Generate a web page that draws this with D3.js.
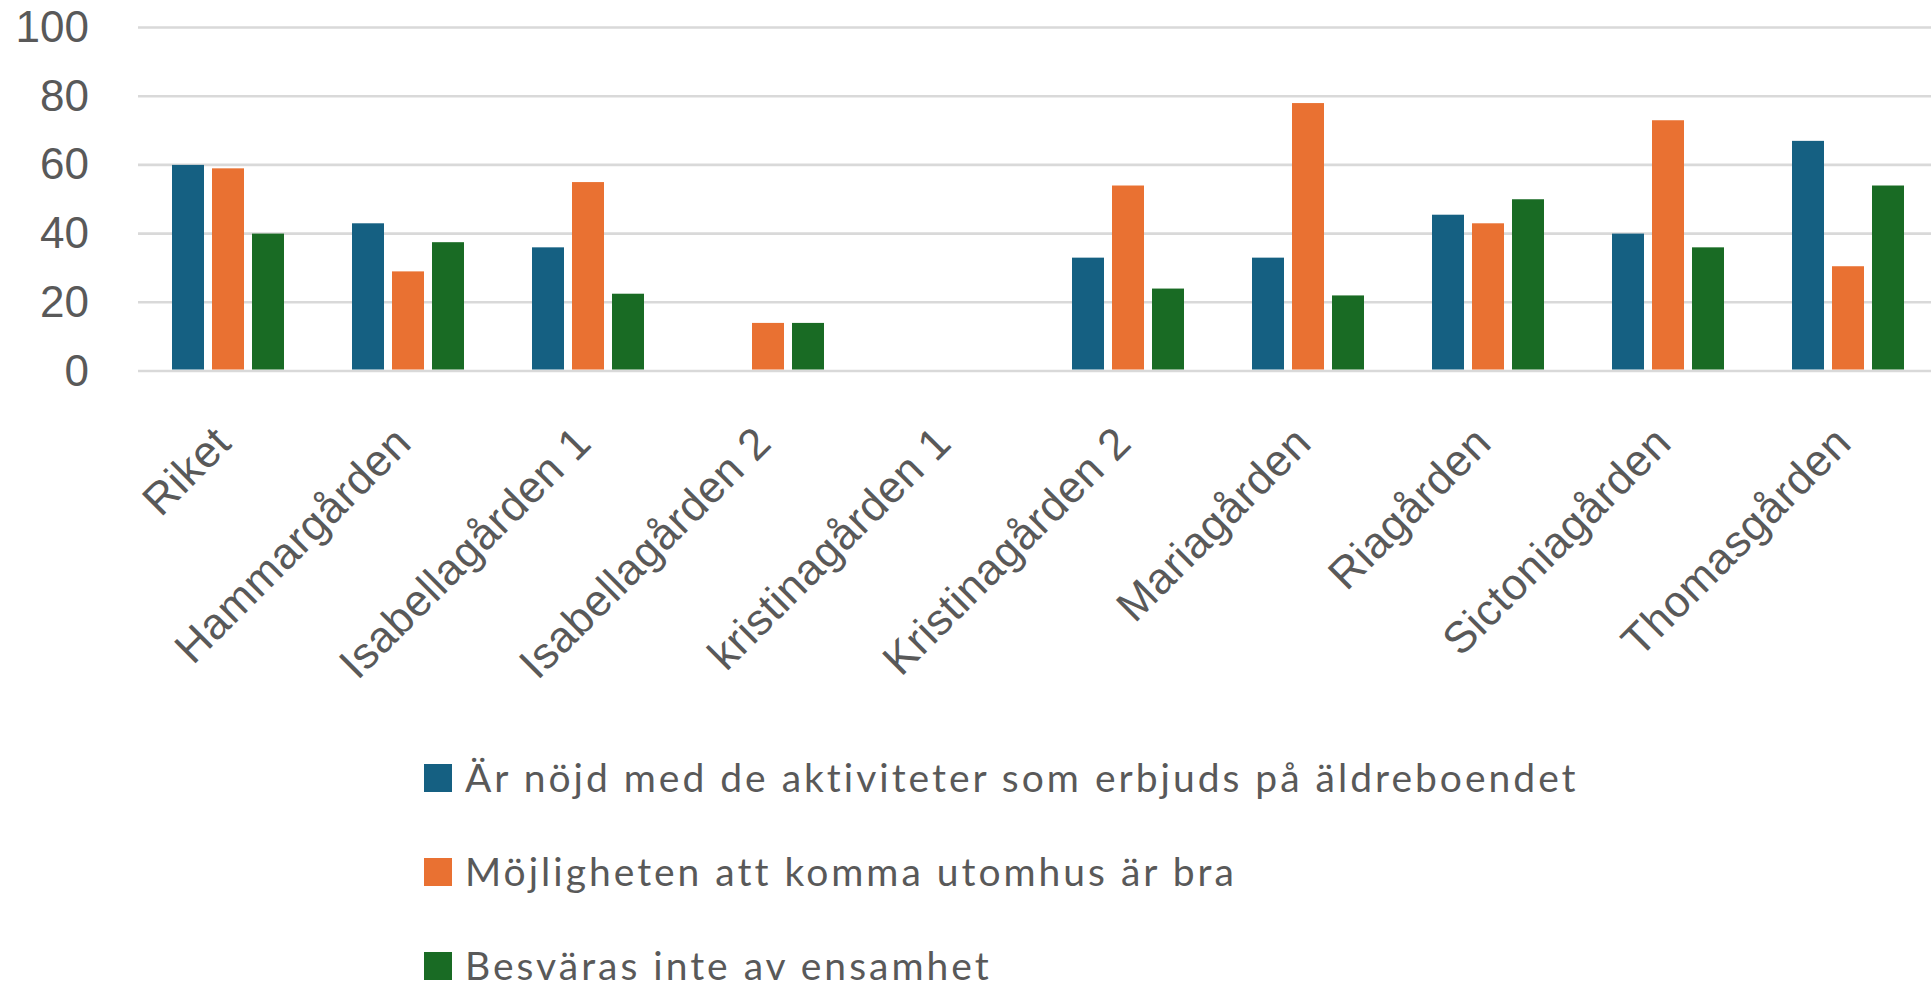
<!DOCTYPE html>
<html>
<head>
<meta charset="utf-8">
<script src="https://cdn.jsdelivr.net/npm/d3@7"></script>
<style>
  html, body { margin: 0; padding: 0; background: #fff; overflow: hidden; }
</style>
</head>
<body>
<svg id="chart"></svg>
<script>
(function () {
var width = 1931, height = 989

var categories = ['Riket', 'Hammargården', 'Isabellagården 1', 'Isabellagården 2', 'kristinagården 1',
                  'Kristinagården 2', 'Mariagården', 'Riagården', 'Sictoniagården', 'Thomasgården']
var seriesNames = ['Är nöjd med de aktiviteter som erbjuds på äldreboendet',
                   'Möjligheten att komma utomhus är bra',
                   'Besväras inte av ensamhet']
var aktiviteter = [60, 43, 36, null, null, 33, 33, 45.5, 40, 67]
var utomhus     = [59, 29, 55, 14, null, 54, 78, 43, 73, 30.5]
var ensamhet    = [40, 37.5, 22.5, 14, null, 24, 22, 50, 36, 54]
var yTicks = [0, 20, 40, 60, 80, 100]

var colors = ['#156082', '#e97132', '#196b24']
var textColor = '#595959'

var svg = d3.select('#chart')
            .attr('width', width)
            .attr('height', height)

var seriesValues = [aktiviteter, utomhus, ensamhet]

var x0 = d3.scaleBand().domain(categories).range([138, 1938]).padding(0)
var x1 = d3.scaleBand().domain([0, 1, 2])
           .range([x0.bandwidth() / 2 - 56, x0.bandwidth() / 2 + 56])
           .paddingInner(0.2)
var y = d3.scaleLinear().domain([0, 100]).range([371, 27.5])

// gridlines
svg.append('g')
   .selectAll('line')
   .data(yTicks)
   .enter()
   .append('line')
   .attr('x1', 138)
   .attr('x2', width)
   .attr('y1', (d) => y(d))
   .attr('y2', (d) => y(d))
   .attr('stroke', '#d9d9d9')
   .attr('stroke-width', 2.6)

// y axis labels
var yAxis = d3.axisLeft(y).tickValues(yTicks).tickSize(0).tickPadding(0)
var ya = svg.append('g')
   .attr('transform', 'translate(89,0)')
   .call(yAxis)
ya.select('.domain').remove()
ya.selectAll('text')
  .attr('fill', textColor)
  .style('font', '44px "Liberation Sans", Arial, sans-serif')

// bars
var groups = svg.append('g')
   .selectAll('g')
   .data(categories)
   .enter()
   .append('g')
   .attr('transform', (d) => 'translate(' + x0(d) + ',0)')

groups.selectAll('rect')
   .data((d, i) => seriesValues.map((s, k) => ({k: k, v: s[i]})).filter((e) => e.v != null))
   .enter()
   .append('rect')
   .attr('x', (d) => x1(d.k))
   .attr('width', x1.bandwidth())
   .attr('y', (d) => y(d.v))
   .attr('height', (d) => y(0) - y(d.v) - 1.5)
   .attr('fill', (d) => colors[d.k])

// x axis labels, rotated
var xAxis = d3.axisBottom(x0).tickSize(0).tickPadding(0)
var xa = svg.append('g')
   .attr('transform', 'translate(0,' + 422 + ')')
   .call(xAxis)
xa.select('.domain').remove()
xa.selectAll('text')
  .attr('fill', textColor)
  .style('font', '44px "Liberation Sans", Arial, sans-serif')
  .style('letter-spacing', '0.5px')
  .style('text-anchor', 'end')
  .attr('dy', '0.75em')
  .attr('transform', 'translate(-18,0) rotate(-45)')

// legend
var legend = svg.append('g')
   .selectAll('g')
   .data(seriesNames)
   .enter()
   .append('g')
   .attr('transform', (d, i) => 'translate(424,' + (778 + i * 94) + ')')

legend.append('rect')
   .attr('x', 0)
   .attr('y', -14)
   .attr('width', 28)
   .attr('height', 28)
   .attr('fill', (d, i) => colors[i])

legend.append('text')
   .attr('x', 41)
   .attr('y', 0)
   .attr('dy', '0.35em')
   .attr('fill', textColor)
   .style('font', '39px Lato, sans-serif')
   .style('letter-spacing', '3px')
   .text((d) => d)
})();
</script>
</body>
</html>
